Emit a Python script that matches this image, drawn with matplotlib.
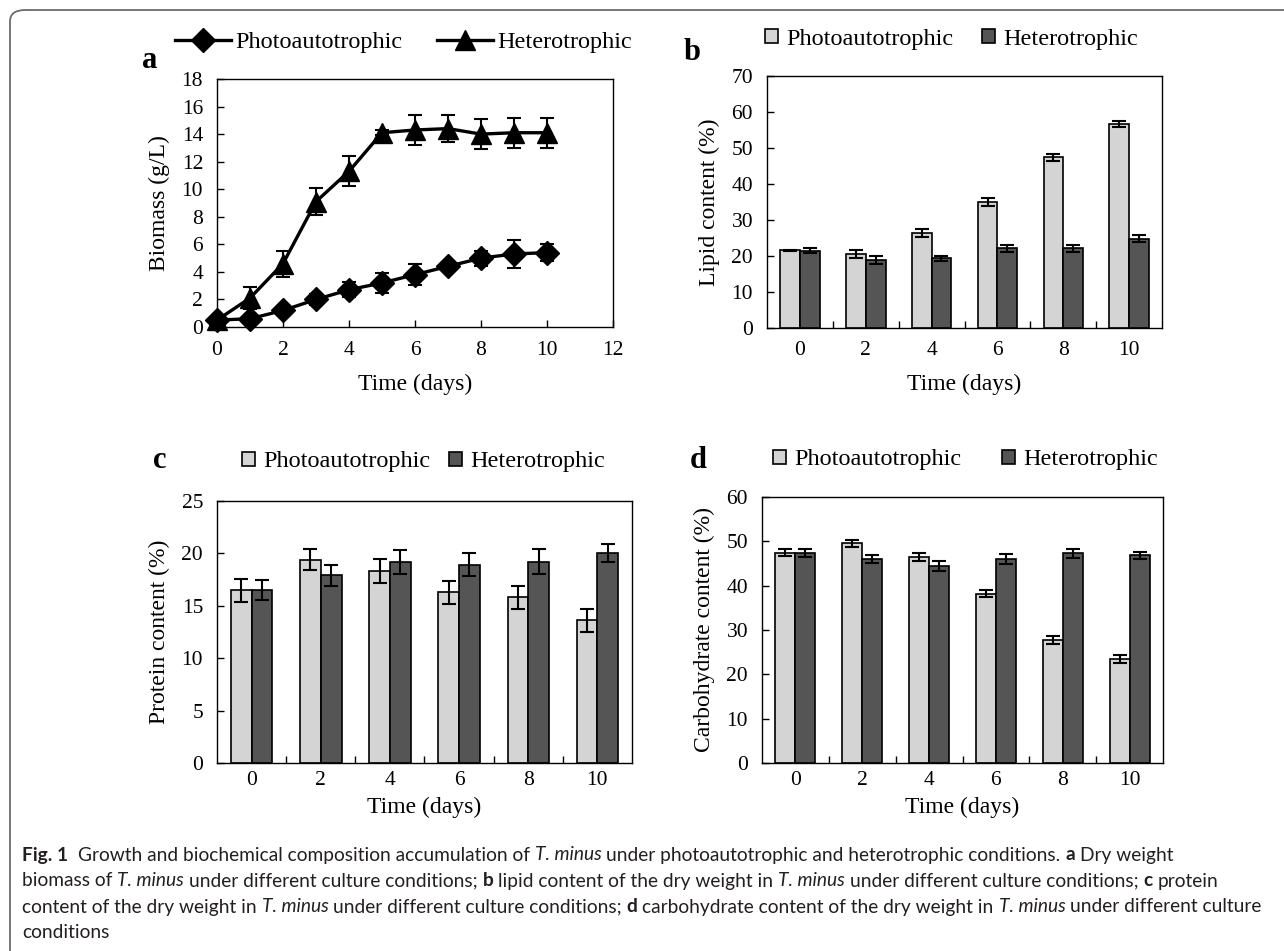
import numpy as np
import matplotlib
matplotlib.use("Agg")
import matplotlib.pyplot as plt
from matplotlib.patches import FancyBboxPatch

plt.rcParams['font.family'] = 'Liberation Serif'

# panel a: biomass (g/L)
days = [0, 1, 2, 3, 4, 5, 6, 7, 8, 9, 10]
bio_photo = [0.5, 0.6, 1.2, 2.0, 2.7, 3.2, 3.8, 4.4, 5.0, 5.3, 5.4]
bio_photo_err = [0.2, 0.3, 0.2, 0.4, 0.55, 0.7, 0.75, 0.3, 0.55, 1.0, 0.6]
bio_hetero = [0.5, 2.1, 4.6, 9.1, 11.3, 14.1, 14.3, 14.4, 14.0, 14.1, 14.1]
bio_hetero_err = [0.2, 0.8, 0.95, 1.0, 1.1, 0.2, 1.1, 1.0, 1.1, 1.1, 1.1]

# panels b-d: composition (%)
bar_days = ['0', '2', '4', '6', '8', '10']
lipid_photo = [21.6, 20.5, 26.4, 35.0, 47.4, 56.6]
lipid_photo_err = [0.2, 1.1, 1.1, 1.1, 1.0, 0.9]
lipid_hetero = [21.5, 18.8, 19.4, 22.1, 22.1, 24.8]
lipid_hetero_err = [0.8, 1.1, 0.7, 1.0, 1.0, 1.0]

protein_photo = [16.5, 19.4, 18.3, 16.3, 15.8, 13.6]
protein_photo_err = [1.1, 1.0, 1.15, 1.1, 1.1, 1.1]
protein_hetero = [16.5, 17.9, 19.2, 18.9, 19.2, 20.0]
protein_hetero_err = [0.95, 1.0, 1.15, 1.1, 1.2, 0.85]

carb_photo = [47.4, 49.6, 46.5, 38.2, 27.8, 23.5]
carb_photo_err = [0.8, 0.8, 0.85, 0.85, 0.85, 0.9]
carb_hetero = [47.4, 46.0, 44.4, 46.1, 47.3, 46.9]
carb_hetero_err = [0.9, 0.9, 1.15, 1.1, 0.95, 0.8]

W, H = 1284, 951
fig = plt.figure(figsize=(W / 100, H / 100), dpi=100)

# outer frame of the figure box
frame = FancyBboxPatch((10 / W, -0.05), 1.2, 1 - 10 / H + 0.05,
                       boxstyle="round,pad=0,rounding_size=0.012",
                       transform=fig.transFigure, fill=False,
                       edgecolor='#6b6b6b', linewidth=1.3, clip_on=False)
fig.patches.append(frame)

tick_fs = 15.5
label_fs = 17
leg_fs = 17.5
letter_fs = 22

def axes_px(left, top, right, bottom):
    return fig.add_axes([left / W, 1 - bottom / H, (right - left) / W, (bottom - top) / H])

def style_axes(ax):
    for s in ax.spines.values():
        s.set_linewidth(1.0)
        s.set_color('black')
    ax.tick_params(axis='y', direction='in', length=5, width=1, labelsize=tick_fs, pad=10)
    ax.tick_params(axis='x', labelsize=tick_fs)

# ---- panel a ----
ax = axes_px(217, 79, 613, 327)
ax.errorbar(days, bio_photo, yerr=bio_photo_err, color='black', marker='D', markersize=12.5,
            linewidth=2.4, elinewidth=1.5, capsize=5, capthick=1.5, label='Photoautotrophic',
            clip_on=False, zorder=3)
ax.errorbar(days, bio_hetero, yerr=bio_hetero_err, color='black', marker='^', markersize=14.5,
            linewidth=2.4, elinewidth=1.5, capsize=5, capthick=1.5, label='Heterotrophic',
            clip_on=False, zorder=3)
ax.set_xlim(0, 12)
ax.set_ylim(0, 18)
ax.set_xticks(range(0, 13, 2))
ax.set_yticks(range(0, 19, 2))
style_axes(ax)
ax.tick_params(axis='x', direction='in', length=5, width=1, pad=10)
ax.set_xlabel('Time (days)', fontsize=label_fs, labelpad=10)
ax.set_ylabel('Biomass (g/L)', fontsize=label_fs, labelpad=8)
handles, labels = ax.get_legend_handles_labels()
handles = [h[0] for h in handles]
ax.legend(handles, labels, loc='center left', bbox_to_anchor=(175 / W, 1 - 42 / H),
          bbox_transform=fig.transFigure, ncol=2, frameon=False, fontsize=leg_fs,
          handlelength=2.3, handletextpad=0.2, columnspacing=1.4, borderaxespad=0, borderpad=0)
fig.text(150 / W, 1 - 60 / H, 'a', fontsize=letter_fs, fontweight='bold', ha='center', va='center')


def bar_panel(box, photo, photo_err, hetero, hetero_err, ymax, ystep, ylabel,
              letter, letter_xy, leg_x, leg_y, colspace, xpad, xlabelpad):
    ax = axes_px(*box)
    x = np.arange(len(bar_days))
    w = 0.3
    ekw = dict(elinewidth=1.5, capthick=1.5)
    ax.bar(x - w / 2, photo, w, yerr=photo_err, color='#d3d4d3', edgecolor='black',
           linewidth=1.2, capsize=5, error_kw=ekw, label='Photoautotrophic')
    ax.bar(x + w / 2, hetero, w, yerr=hetero_err, color='#555555', edgecolor='black',
           linewidth=1.2, capsize=5, error_kw=ekw, label='Heterotrophic')
    ax.set_xlim(-0.5, len(bar_days) - 0.5)
    ax.set_ylim(0, ymax)
    ax.set_yticks(np.arange(0, ymax + 1, ystep))
    ax.set_xticks(x)
    ax.set_xticklabels(bar_days)
    ax.set_xticks(np.arange(0.5, len(bar_days) - 1, 1), minor=True)
    style_axes(ax)
    ax.tick_params(axis='x', which='major', length=0, pad=xpad)
    ax.tick_params(axis='x', which='minor', direction='in', length=5, width=1)
    ax.set_xlabel('Time (days)', fontsize=label_fs, labelpad=xlabelpad)
    ax.set_ylabel(ylabel, fontsize=label_fs, labelpad=8)
    ax.legend(loc='center left', bbox_to_anchor=(leg_x / W, 1 - leg_y / H),
              bbox_transform=fig.transFigure, ncol=2, frameon=False, fontsize=leg_fs,
              handlelength=0.55, handleheight=0.55, handletextpad=0.33,
              columnspacing=colspace, borderaxespad=0, borderpad=0)
    fig.text(letter_xy[0] / W, 1 - letter_xy[1] / H, letter, fontsize=letter_fs,
             fontweight='bold', ha='center', va='center')
    return ax


bar_panel((767, 76, 1162, 328), lipid_photo, lipid_photo_err, lipid_hetero, lipid_hetero_err,
          70, 10, 'Lipid content (%)', 'b', (692, 53), 765, 39, 1.17, 9, 10)
bar_panel((217, 501, 632, 763), protein_photo, protein_photo_err, protein_hetero,
          protein_hetero_err, 25, 5, 'Protein content (%)', 'c', (160, 460), 242, 462, 0.75, 6, 5)
bar_panel((762, 497, 1163, 763), carb_photo, carb_photo_err, carb_hetero, carb_hetero_err,
          60, 10, 'Carbohydrate content (%)', 'd', (698, 460), 773, 460, 1.67, 6, 5)

# ---- caption with mixed styles ----
cap_font = 'Lato'
cap_fs = 13.8
caption_lines = [
    [("Fig. 1", 'bold', 'normal'), ("  Growth and biochemical composition accumulation of ", 'normal', 'normal'),
     ("T. minus", 'normal', 'italic'), (" under photoautotrophic and heterotrophic conditions. ", 'normal', 'normal'),
     ("a", 'bold', 'normal'), (" Dry weight", 'normal', 'normal')],
    [("biomass of ", 'normal', 'normal'), ("T. minus", 'normal', 'italic'),
     (" under different culture conditions; ", 'normal', 'normal'), ("b", 'bold', 'normal'),
     (" lipid content of the dry weight in ", 'normal', 'normal'), ("T. minus", 'normal', 'italic'),
     (" under different culture conditions; ", 'normal', 'normal'), ("c", 'bold', 'normal'),
     (" protein", 'normal', 'normal')],
    [("content of the dry weight in ", 'normal', 'normal'), ("T. minus", 'normal', 'italic'),
     (" under different culture conditions; ", 'normal', 'normal'), ("d", 'bold', 'normal'),
     (" carbohydrate content of the dry weight in ", 'normal', 'normal'), ("T. minus", 'normal', 'italic'),
     (" under different culture", 'normal', 'normal')],
    [("conditions", 'normal', 'normal')],
]
line_y = [855, 881, 907, 933]

renderer = fig.canvas.get_renderer()

def text_w(s, weight='normal', style='normal'):
    t = fig.text(0, 0, s, fontsize=cap_fs, family=cap_font, fontweight=weight, fontstyle=style)
    w = t.get_window_extent(renderer).width
    t.remove()
    return w

space_w = text_w("x x") - text_w("xx")

for runs, y in zip(caption_lines, line_y):
    xpx = 22
    for s, weight, style in runs:
        core = s.strip()
        lead = len(s) - len(s.lstrip())
        trail = len(s) - len(s.rstrip())
        xpx += lead * space_w
        t = fig.text(xpx / W, 1 - y / H, core, fontsize=cap_fs, family=cap_font,
                     fontweight=weight, fontstyle=style, va='center', ha='left', color='#231f20')
        xpx += t.get_window_extent(renderer).width + trail * space_w

fig.savefig('out.png', dpi=100)
